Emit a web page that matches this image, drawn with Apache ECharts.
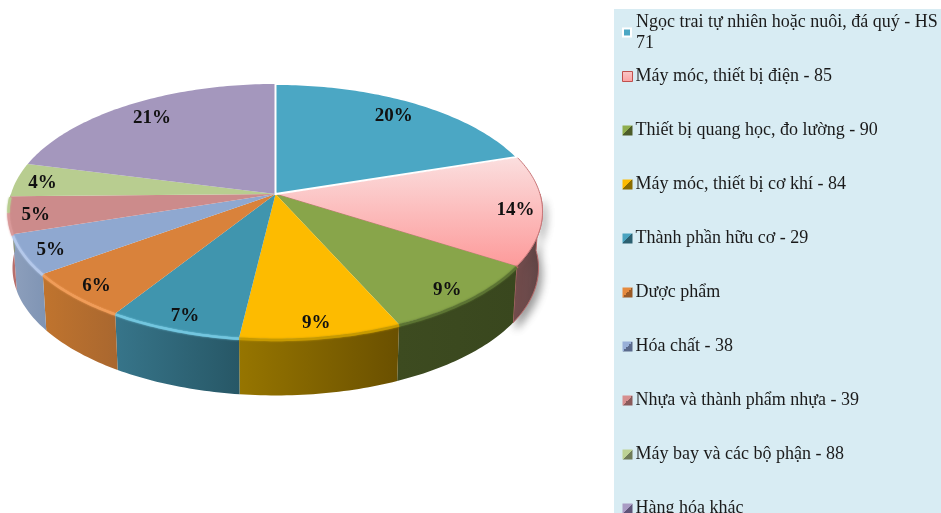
<!DOCTYPE html>
<html><head><meta charset="utf-8">
<style>html,body{margin:0;padding:0;background:#fff;overflow:hidden}#c{width:941px;height:513px}</style>
<script src="https://cdn.jsdelivr.net/npm/echarts@6/dist/echarts.min.js"></script>
</head><body><div id="c"></div>
<script>
const categories = [
  'Ngọc trai tự nhiên hoặc nuôi, đá quý - HS\n71',
  'Máy móc, thiết bị điện - 85',
  'Thiết bị quang học, đo lường - 90',
  'Máy móc, thiết bị cơ khí - 84',
  'Thành phần hữu cơ - 29',
  'Dược phẩm',
  'Hóa chất - 38',
  'Nhựa và thành phẩm nhựa - 39',
  'Máy bay và các bộ phận - 88',
  'Hàng hóa khác'
];
const shares = [20, 14, 9.3, 8.6, 7.1, 6, 5, 4.7, 4.3, 21];

const topColors = ['#4ba7c4', null, '#88a54a', '#fdbb00', '#4095ae', '#d9823b', '#8fa8d0', '#cc8b8b', '#b8cd90', '#a497bd'];
const wallFrom = ['#3b7d93', '#7a5050', '#3d4b20', '#967500', '#37758a', '#c0742e', '#8d9fbc', '#b86f6c', '#8a9a6a', '#7a7090'];
const wallTo   = ['#3b7d93', '#5f4546', '#39471e', '#6a5000', '#275766', '#a9672f', '#7f94b4', '#b86f6c', '#8a9a6a', '#7a7090'];
const rimColors = ['#4ba7c4', '#c46a6a', '#5c7433', '#c79a00', '#72c6df', '#f09c58', '#b4c8ea', '#d99a9a', '#b8cd90', '#a497bd'];
const markerLight = ['#4ba7c4', '#f9c9c9', '#8fae4e', '#fdbb00', '#4aa3bf', '#e58a3e', '#98b0d8', '#d68f8f', '#bdd294', '#a99cc4'];
const markerDark  = ['#4ba7c4', '#fca0a0', '#4c5c28', '#8a6c00', '#2b6070', '#9a5a26', '#5a6a8c', '#8a5a5a', '#6f7c58', '#5f5478'];

// Perspective projection of the unit disc on to the page
const CX = 275.5, CY = 194, SX = 264.5, SY = 125.1, K = 0.137;
const DEPTH = 56.5, BOTTOM_SCALE = 0.985;
function project(angleDeg, r) {
  const t = angleDeg * Math.PI / 180, u = Math.sin(t) * r, v = -Math.cos(t) * r, d = 1 - K * v;
  return [CX + SX * u / d, CY + SY * v / d];
}
function projectBottom(angleDeg) {
  const p = project(angleDeg, 1);
  return [CX + (p[0] - CX) * BOTTOM_SCALE, p[1] + DEPTH];
}
function arc(a, b, fn) {
  const pts = [], n = Math.max(2, Math.ceil(Math.abs(b - a)));
  for (let i = 0; i <= n; i++) pts.push(fn(a + (b - a) * i / n));
  return pts;
}
const rim = a => project(a, 1);
const total = shares.reduce((s, v) => s + v, 0);
const hGrad = (a, b) => ({type: 'linear', x: 0, y: 0, x2: 1, y2: 0, colorStops: [{offset: 0, color: a}, {offset: 1, color: b}]});
const vGrad = (a, b) => ({type: 'linear', x: 0, y: 0, x2: 0, y2: 1, colorStops: [{offset: 0, color: a}, {offset: 1, color: b}]});
const diag = (a, b) => ({type: 'linear', x: 0, y: 0, x2: 1, y2: 1, colorStops: [{offset: 0, color: a}, {offset: .5, color: a}, {offset: .5, color: b}, {offset: 1, color: b}]});

function makeRender(i) {
  return function (params, api) {
    const value = api.value(0);
    const before = shares.slice(0, i).reduce((s, v) => s + v, 0);
    const a = before / total * 360, b = (before + value) / total * 360;
    const kids = [];
    const wa = Math.max(a, 90), wb = Math.min(b, 270);
    if (wb > wa) {
      kids.push({
        type: 'polygon', z2: i === 1 ? 1 : 2,
        shape: {points: arc(wa, wb, rim).concat(arc(wb, wa, projectBottom))},
        style: Object.assign({fill: hGrad(wallFrom[i], wallTo[i])},
          i === 1 ? {shadowBlur: 8, shadowColor: 'rgba(0,0,0,.4)', shadowOffsetX: 3, shadowOffsetY: 6, stroke: '#b96a6a', lineWidth: 1} : {})
      });
      const ra = Math.max(wa, 122), rb = wb;
      if (rb > ra) kids.push({
        type: 'polyline', z2: 11, shape: {points: arc(ra, Math.min(rb, 262), rim).map(p => [p[0], p[1] + 1])},
        style: {stroke: rimColors[i], lineWidth: 2.5, fill: 'none', shadowBlur: 2, shadowColor: rimColors[i]}
      });
    }
    const center = [CX, CY];
    const face = {
      type: 'polygon', z2: i === 0 ? 13 : 10,
      shape: {points: [center].concat(arc(a, b, rim))},
      style: {fill: i === 1 ? vGrad('#fbdfdf', '#fd9a9a') : topColors[i]}
    };
    if (i === 0) { face.style.stroke = '#ffffff'; face.style.lineWidth = 2; }
    if (i === 1) { face.style.stroke = '#c9787a'; face.style.lineWidth = 1; }
    kids.push(face);
    const big = value >= 20;
    const mid = (a + b) / 2, lr = big ? 0.83 : 0.9, lp = project(mid, lr);
    kids.push({
      type: 'text', z2: 20, x: lp[0], y: lp[1] + (big ? -1 : 2),
      style: {text: Math.round(value / total * 100) + '%', fontFamily: '"Liberation Serif"', fontWeight: 'bold', fontSize: 19, fill: '#111', align: 'center', verticalAlign: 'middle'}
    });
    return {type: 'group', children: kids};
  };
}

const legendEntry = i => ({
  name: categories[i], icon: 'rect',
  itemStyle: i === 0
    ? {color: markerLight[0], borderColor: '#ffffff', borderWidth: 2}
    : i === 1
      ? {color: vGrad(markerLight[1], markerDark[1]), borderColor: '#c0504d', borderWidth: 1}
      : {color: diag(markerLight[i], markerDark[i])}
});
const legendBase = {
  orient: 'vertical', padding: 0,
  selectedMode: false, height: 700, width: 325, align: 'left'
};
const legendFont = {fontFamily: '"Liberation Serif"', fontSize: 18, color: '#1a1a1a', lineHeight: 21};

const chart = echarts.init(document.getElementById('c'), null, {renderer: 'canvas'});
chart.setOption({
  animation: false,
  backgroundColor: '#ffffff',
  graphic: [{type: 'rect', z: -10, shape: {x: 614, y: 9, width: 327, height: 504}, style: {fill: '#d8ecf3'}}],
  legend: [
    Object.assign({}, legendBase, {
      left: 622, top: 1, itemWidth: 8, itemHeight: 8, data: [legendEntry(0)],
      textStyle: Object.assign({}, legendFont, {padding: [21, 0, 0, 0]})
    }),
    Object.assign({}, legendBase, {
      left: 622, top: 66, itemWidth: 10, itemHeight: 10, itemGap: 33, data: categories.slice(1).map((c, k) => legendEntry(k + 1)),
      textStyle: Object.assign({}, legendFont, {padding: [0, 0, 0, -2]})
    })
  ],
  series: categories.map((name, i) => ({
    type: 'custom', name, coordinateSystem: 'none', silent: true,
    itemStyle: {color: topColors[i] || '#fbb'},
    renderItem: makeRender(i),
    data: [[shares[i]]]
  }))
});
</script></body></html>
